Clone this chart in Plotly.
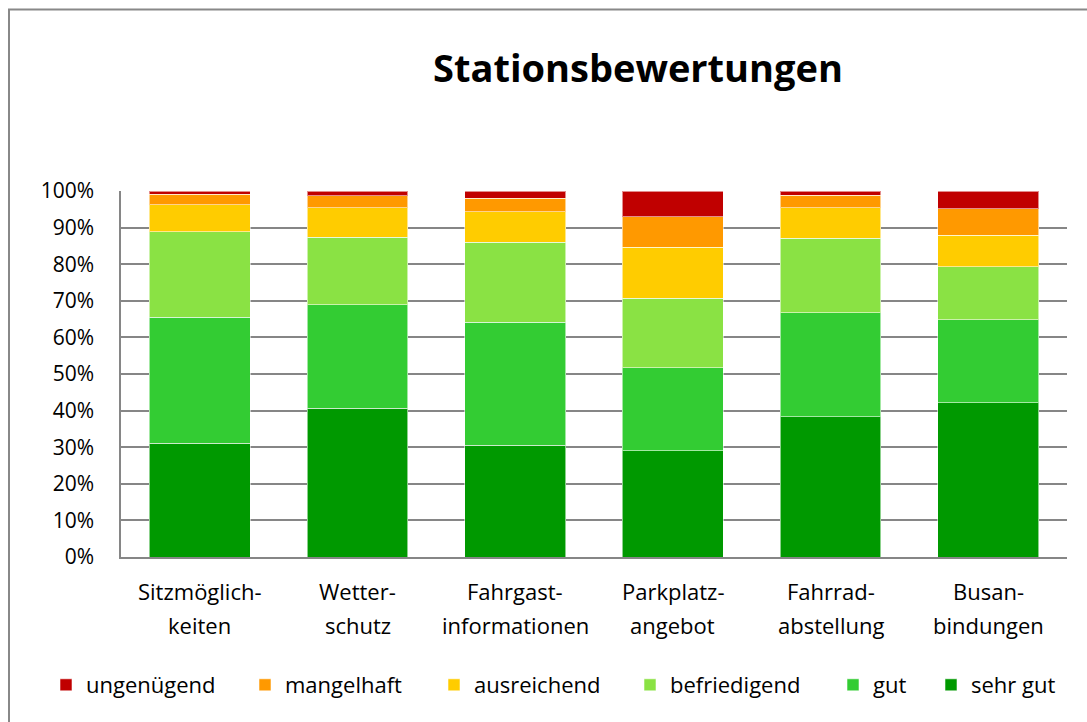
import plotly.graph_objects as go

# ---- data ----
categories = ["Sitzmöglich-|keiten", "Wetter-|schutz", "Fahrgast-|informationen",
              "Parkplatz-|angebot", "Fahrrad-|abstellung", "Busan-|bindungen"]
series_names = ["sehr gut", "gut", "befriedigend", "ausreichend", "mangelhaft", "ungenügend"]
sehr_gut     = [31.1, 40.6, 30.5, 29.0, 38.3, 42.2]
gut          = [34.4, 28.3, 33.6, 22.7, 28.5, 22.6]
befriedigend = [23.4, 18.4, 21.9, 19.0, 20.3, 14.5]
ausreichend  = [7.3, 8.1, 8.3, 14.0, 8.3, 8.6]
mangelhaft   = [2.9, 3.3, 3.7, 8.3, 3.5, 7.2]
ungenuegend  = [0.9, 1.3, 2.0, 7.0, 1.1, 4.9]
series_values = [sehr_gut, gut, befriedigend, ausreichend, mangelhaft, ungenuegend]
colors = ["#009900", "#33CC33", "#8AE244", "#FFCC00", "#FF9900", "#C00000"]
y_ticks = [0, 10, 20, 30, 40, 50, 60, 70, 80, 90, 100]
y_tick_labels = [f"{v}%" for v in y_ticks]
title_text = "Stationsbewertungen"

FONT = "'Open Sans', 'Noto Sans', sans-serif"
FS = 22
W, H = 1087, 722
L, R, T, B = 121, 20, 191, 165
pw = W - L - R
ph = H - T - B

def px_x(p):
    return (p - L) / pw

def px_y(p):
    return (H - B - p) / ph

x_keys = [c.replace("|", "") for c in categories]

fig = go.Figure()
# legend swatch left positions (pixels) in order ungenügend ... sehr gut
legend_px = {"ungenügend": 58, "mangelhaft": 257, "ausreichend": 446,
             "befriedigend": 642, "gut": 845, "sehr gut": 943}
legend_ids = {}
for i, name in enumerate(reversed(series_names)):
    legend_ids[name] = "legend" if i == 0 else f"legend{i+1}"

for name, vals, col in zip(series_names, series_values, colors):
    fig.add_trace(go.Bar(
        x=x_keys, y=vals, name=name,
        marker=dict(color=col, line=dict(color="rgba(255,255,255,0.55)", width=1)),
        legend=legend_ids[name],
    ))

layout_legends = {}
for name, lid in legend_ids.items():
    layout_legends[lid] = dict(
        x=px_x(legend_px[name] - 12), xanchor="left",
        y=px_y(685), yanchor="middle",
        orientation="h", bgcolor="rgba(0,0,0,0)", borderwidth=0,
        font=dict(family=FONT, size=FS, color="#000000"),
        itemwidth=30,
    )

annotations = []
for key, cat in zip(x_keys, categories):
    l1, l2 = cat.split("|")
    annotations.append(dict(x=key, xref="x", y=px_y(591), yref="paper", text=l1,
                            showarrow=False, yanchor="middle", xanchor="center",
                            font=dict(family=FONT, size=FS, color="#000000")))
    annotations.append(dict(x=key, xref="x", y=px_y(625), yref="paper", text=l2,
                            showarrow=False, yanchor="middle", xanchor="center",
                            font=dict(family=FONT, size=FS, color="#000000")))

fig.update_layout(
    width=W, height=H,
    margin=dict(l=L, r=R, t=T, b=B, pad=0),
    paper_bgcolor="white", plot_bgcolor="white",
    barmode="stack", barnorm="percent", bargap=0.36,
    title=dict(text=f"<b>{title_text}</b>", x=638 / W, xanchor="center",
               y=1 - 69 / H, yanchor="middle",
               font=dict(family=FONT, size=38, color="#000000")),
    annotations=annotations,
    showlegend=True,
    **layout_legends,
)
fig.update_layout(title_xref="container", title_yref="container")

fig.update_xaxes(showticklabels=False, showgrid=False, showline=True,
                 linecolor="#868686", linewidth=1.5, ticks="", mirror=False)
fig.update_yaxes(range=[0, 100], tickmode="array", tickvals=y_ticks, ticktext=y_tick_labels,
                 showgrid=True, gridcolor="#868686", gridwidth=1.5,
                 showline=True, linecolor="#868686", linewidth=1.5,
                 ticks="", ticklabelstandoff=21, zeroline=False,
                 tickfont=dict(family=FONT, size=FS - 1, color="#000000"))

# outer chart border (only top/left visible in frame)
fig.add_shape(type="rect", xref="paper", yref="paper",
              x0=px_x(9), x1=px_x(1200), y0=px_y(800), y1=px_y(9.5),
              line=dict(color="#888888", width=2), fillcolor="rgba(0,0,0,0)", layer="below")

fig.write_html("out.html", config={"displayModeBar": False},
               post_script="document.body.style.margin='0';document.body.style.overflow='hidden';")
